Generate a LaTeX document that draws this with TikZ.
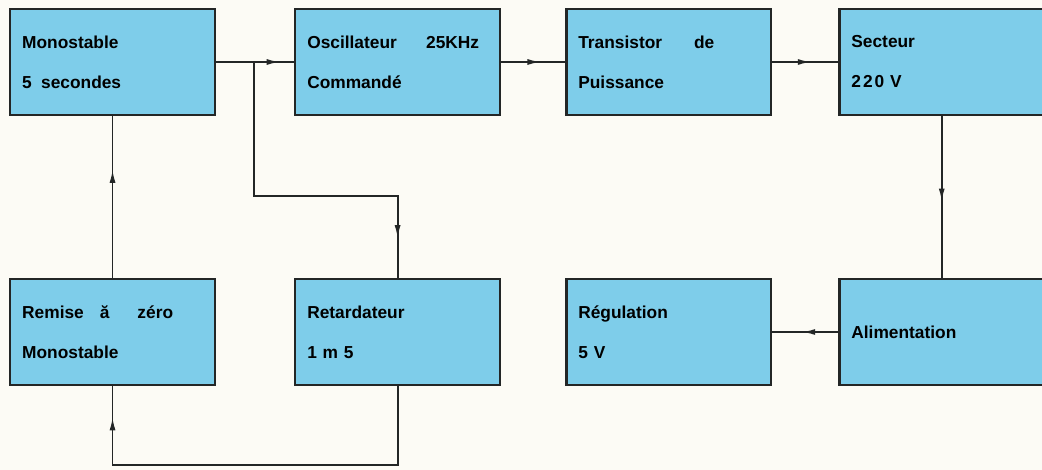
\documentclass[tikz,border=0pt]{standalone}
\usepackage{fontspec}
\setmainfont{Liberation Sans}
\usetikzlibrary{arrows.meta,positioning,calc,decorations.markings}
\definecolor{boxblue}{RGB}{126,205,234}
\definecolor{paper}{RGB}{252,251,245}
\definecolor{ink}{RGB}{35,38,38}

\begin{document}
\begin{tikzpicture}[
  x=0.75pt, y=-0.75pt,
  font=\fontsize{13}{30}\selectfont\bfseries,
  block/.style={rectangle,draw=ink,line width=1.8pt,fill=boxblue,minimum width=153.5pt,minimum height=79.2pt,text width=135.5pt,inner xsep=9pt,align=left},
  wire/.style={draw=ink,line width=1.4pt},
  flow/.style={postaction={decorate},decoration={markings,mark=at position #1 with {\arrow{Latex[length=10pt,width=4.5pt]}}}},
  node distance=121.5pt,
]
  \fill[paper] (0,0) rectangle (1042,470);
  \useasboundingbox (0,0) rectangle (1042,470);
  % upper row
  \node[block,anchor=north west] (mono) at (9,8) {Monostable\\5\hspace{7pt}secondes};
  \node[block,right=58.5pt of mono] (osc) {Oscillateur\hspace{22pt}25KHz\\Commandé};
  \node[block,right=48pt of osc] (trans) {Transistor\hspace{24pt}de\\Puissance};
  \node[block,right=49.5pt of trans] (sect) {Secteur\\2\kern1.5pt2\kern1.5pt0 V};
  % lower row
  \node[block,below=of mono] (raz) {Remise\hspace{12pt}ă\hspace{21pt}zéro\\Monostable};
  \node[block,below=of osc] (retard) {Retardateur\\1 m 5};
  \node[block,below=of trans] (regul) {Régulation\\5 V};
  \node[block,below=of sect] (alim) {Alimentation};
  % connections
  \coordinate (fork) at ($(mono.east)!0.49!(osc.west)$);
  \draw[wire,flow=0.82] (mono.east) -- (osc.west);
  \draw[wire,flow=0.62] (osc.east) -- (trans.west);
  \draw[wire,flow=0.59] (trans.east) -- (sect.west);
  \draw[wire,flow=0.53] (sect.south) -- (alim.north);
  \draw[wire,flow=0.55] (alim.west) -- (regul.east);
  \draw[wire,flow=0.89] (fork) |- ($(retard.north)+(0,-82)$) -- (retard.north);
  \draw[wire,flow=0.93] (retard.south) -- ++(0,79) -| (raz.south);
  \draw[wire,flow=0.67] (raz.north) -- (mono.south);
\end{tikzpicture}
\end{document}
